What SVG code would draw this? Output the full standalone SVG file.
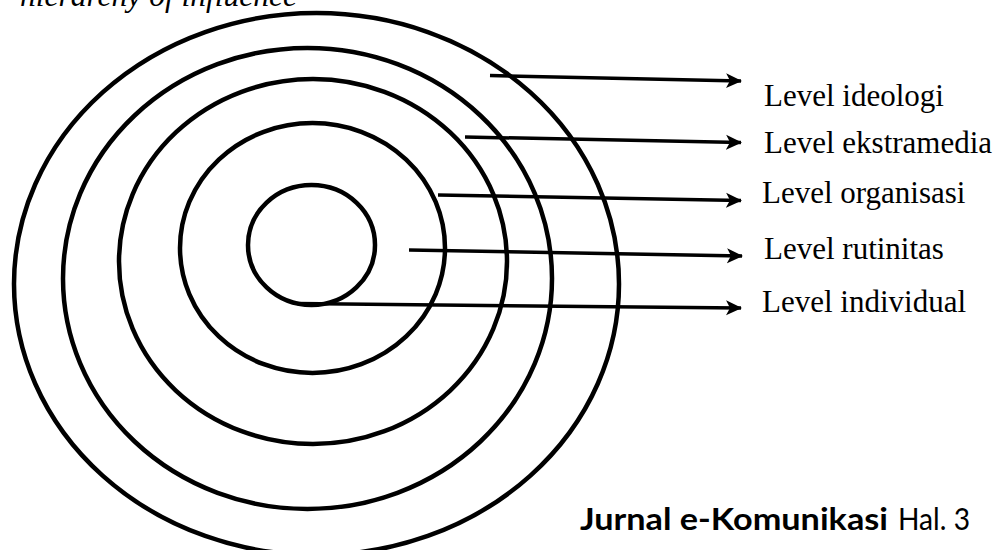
<svg xmlns="http://www.w3.org/2000/svg" width="1008" height="550" viewBox="0 0 1008 550">
<style>
.ring{fill:none;stroke:#000;stroke-width:4.5}
.conn{fill:none;stroke:#000;stroke-width:3.5}
.lbl{font-family:"Liberation Serif","Times New Roman",serif;font-size:31px;fill:#000}
.title{font-family:"Liberation Serif","Times New Roman",serif;font-size:31.5px;font-style:italic;fill:#000}
.foot{font-family:Lato,"Open Sans",sans-serif;font-size:30px;fill:#000}
</style>
<defs>
<marker id="ah" viewBox="0 0 16 16" refX="15" refY="8" markerWidth="16" markerHeight="16" markerUnits="userSpaceOnUse" orient="auto">
<path d="M0,0.5 L16,8 L0,15.5 L4,8 z" fill="#000"/>
</marker>
</defs>
<rect width="1008" height="550" fill="#fff"/>
<text class="title" x="20" y="6">hierarchy of influence</text>
<g id="ring-ideologi"><ellipse class="ring" cx="316.5" cy="284" rx="302.5" ry="271"/></g>
<g id="ring-ekstramedia"><ellipse class="ring" cx="307.5" cy="278.5" rx="244.5" ry="230.5"/></g>
<g id="ring-organisasi"><ellipse class="ring" cx="313" cy="261.5" rx="194" ry="182.5"/></g>
<g id="ring-rutinitas"><ellipse class="ring" cx="312.5" cy="248" rx="132.5" ry="125"/></g>
<g id="ring-individual"><ellipse class="ring" cx="311.5" cy="245" rx="63.5" ry="60"/></g>
<g id="connectors">
<line class="conn" x1="490" y1="75.5" x2="741" y2="81" marker-end="url(#ah)"/>
<line class="conn" x1="465" y1="137" x2="741" y2="142.5" marker-end="url(#ah)"/>
<line class="conn" x1="438" y1="195" x2="741" y2="200.5" marker-end="url(#ah)"/>
<line class="conn" x1="409" y1="250" x2="742" y2="256" marker-end="url(#ah)"/>
<line class="conn" x1="297" y1="303.5" x2="741" y2="308" marker-end="url(#ah)"/>
</g>
<g id="label-ideologi"><text class="lbl" x="764" y="106">Level ideologi</text></g>
<g id="label-ekstramedia"><text class="lbl" x="764" y="153">Level ekstramedia</text></g>
<g id="label-organisasi"><text class="lbl" x="762" y="203">Level organisasi</text></g>
<g id="label-rutinitas"><text class="lbl" x="764" y="259">Level rutinitas</text></g>
<g id="label-individual"><text class="lbl" x="762" y="312">Level individual</text></g>
<g id="footer">
<text class="foot" x="580" y="530" font-weight="bold" textLength="308" lengthAdjust="spacingAndGlyphs">Jurnal e-Komunikasi</text>
<text class="foot" x="898" y="530" textLength="72" lengthAdjust="spacingAndGlyphs">Hal. 3</text>
</g>
</svg>
